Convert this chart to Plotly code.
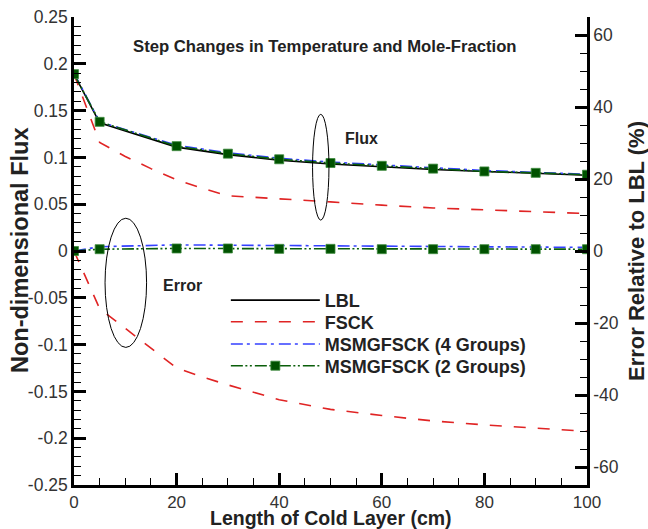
import plotly.graph_objects as go

# ---------------- data ----------------
x_len = [0, 5, 20, 30, 40, 50, 60, 70, 80, 90, 100]
flux_lbl = [0.189, 0.137, 0.111, 0.103, 0.097, 0.093, 0.090, 0.087, 0.085, 0.083, 0.081]
flux_msm4 = [0.190, 0.138, 0.113, 0.105, 0.099, 0.095, 0.092, 0.089, 0.086, 0.084, 0.082]
flux_msm2 = [0.189, 0.138, 0.112, 0.104, 0.098, 0.094, 0.091, 0.088, 0.085, 0.0835, 0.0815]
err_msm4 = [0.0, 1.2, 1.7, 1.6, 1.5, 1.4, 1.3, 1.2, 1.1, 1.0, 1.0]
err_msm2 = [0.0, 0.5, 0.7, 0.7, 0.6, 0.6, 0.5, 0.5, 0.5, 0.5, 0.5]

x_fsck = [0, 5, 10, 15, 20, 25, 30, 40, 50, 60, 70, 80, 90, 100]
flux_fsck = [0.189, 0.116, 0.101, 0.088, 0.076, 0.067, 0.059, 0.056, 0.0525, 0.049, 0.046, 0.044, 0.042, 0.040]
err_fsck = [0.0, -16.0, -21.5, -27.0, -32.5, -35.0, -37.2, -41.3, -44.0, -45.7, -47.2, -48.3, -49.2, -50.1]

y_tickvals = [0.25, 0.2, 0.15, 0.1, 0.05, 0, -0.05, -0.1, -0.15, -0.2, -0.25]
y_ticktext = ["0.25", "0.2", "0.15", "0.1", "0.05", "0", "-0.05", "-0.1", "-0.15", "-0.2", "-0.25"]
y2_tickvals = [60, 40, 20, 0, -20, -40, -60]
y2_ticktext = ["60", "40", "20", "0", "-20", "-40", "-60"]
x_tickvals = [0, 20, 40, 60, 80, 100]
x_ticktext = ["0", "20", "40", "60", "80", "100"]

names = ["LBL", "FSCK", "MSMGFSCK (4 Groups)", "MSMGFSCK (2 Groups)"]
x_title = "Length of Cold Layer (cm)"
y_title = "Non-dimensional Flux"
y2_title = "Error Relative to LBL (%)"

# ---------------- styles ----------------
FONT = "Liberation Sans, Arial, sans-serif"
TXT = "#222222"
RED = "#e02424"
BLUE = "#3440ff"
GREEN = "#0a5e0a"
MK = "#005200"
red_dash = "12px,12px"
blue_dash = "12px,4px,3px,5px"
green_dash = "12px,2.5px,2px,2.5px,2px,3px"
mk = dict(symbol="square", size=9, color=MK, line=dict(color="#3c8a3c", width=0.8))

fig = go.Figure()

# Flux curves
fig.add_trace(go.Scatter(x=x_len, y=flux_lbl, mode="lines", name=names[0], legend="legend",
                         line=dict(color="black", width=1.6)))
fig.add_trace(go.Scatter(x=x_fsck, y=flux_fsck, mode="lines", name=names[1], legend="legend2",
                         line=dict(color=RED, width=1.6, dash=red_dash)))
fig.add_trace(go.Scatter(x=x_len, y=flux_msm4, mode="lines", name=names[2], legend="legend3",
                         line=dict(color=BLUE, width=1.6, dash=blue_dash)))
fig.add_trace(go.Scatter(x=x_len, y=flux_msm2, mode="lines+markers", name=names[3], legend="legend4",
                         line=dict(color=GREEN, width=1.6, dash=green_dash), marker=mk))

# Error curves (right axis)
fig.add_trace(go.Scatter(x=x_fsck, y=err_fsck, mode="lines", name=names[1], yaxis="y2",
                         showlegend=False, line=dict(color=RED, width=1.6, dash=red_dash)))
fig.add_trace(go.Scatter(x=x_len, y=err_msm4, mode="lines", name=names[2], yaxis="y2",
                         showlegend=False, line=dict(color=BLUE, width=1.6, dash=blue_dash)))
fig.add_trace(go.Scatter(x=x_len, y=err_msm2, mode="lines+markers", name=names[3], yaxis="y2",
                         showlegend=False, line=dict(color=GREEN, width=1.6, dash=green_dash),
                         marker=mk))

# ellipses
fig.add_shape(type="circle", xref="x", yref="y", x0=46.5, x1=49.7, y0=0.033, y1=0.146,
              line=dict(color="black", width=1))
fig.add_shape(type="circle", xref="x", yref="y", x0=6.05, x1=14.15, y0=-0.103, y1=0.035,
              line=dict(color="black", width=1))

# annotations
fig.add_annotation(x=48.9, y=0.219, xref="x", yref="y", showarrow=False,
                   text="<b>Step Changes in Temperature and Mole-Fraction</b>",
                   font=dict(family=FONT, size=16.7, color=TXT))
fig.add_annotation(x=56.1, y=0.120, xref="x", yref="y", showarrow=False,
                   text="<b>Flux</b>", font=dict(family=FONT, size=16, color=TXT))
fig.add_annotation(x=21.2, y=-0.037, xref="x", yref="y", showarrow=False,
                   text="<b>Error</b>", font=dict(family=FONT, size=16, color=TXT))

# axis titles as annotations (precise placement)
fig.add_annotation(x=0.5, y=0, xref="paper", yref="paper", yanchor="bottom",
                   yshift=-46, showarrow=False, text="<b>" + x_title + "</b>",
                   font=dict(family=FONT, size=19.5, color=TXT))
fig.add_annotation(x=0, y=0.5, xref="paper", yref="paper", xanchor="center",
                   xshift=-54, showarrow=False, textangle=-90, text="<b>" + y_title + "</b>",
                   font=dict(family=FONT, size=23.5, color=TXT))
fig.add_annotation(x=1, y=0.5, xref="paper", yref="paper", xanchor="center",
                   xshift=49, showarrow=False, textangle=-90, text="<b>" + y2_title + "</b>",
                   font=dict(family=FONT, size=22, color=TXT))

axis_common = dict(showline=True, linecolor="black", linewidth=2.5, ticks="inside",
                   ticklen=12, tickwidth=2.5, tickcolor="black", showgrid=False,
                   zeroline=False, automargin=False,
                   tickfont=dict(family=FONT, size=17.5, color="#333333"))

leg_common = dict(xanchor="left", yanchor="middle", x=0.296, itemwidth=89,
                  bgcolor="rgba(0,0,0,0)",
                  font=dict(family=FONT, size=18, color=TXT, weight="bold"))

# plot area: 74..587 px horizontally, 17..485 px vertically
fig.update_layout(
    width=648, height=529,
    margin=dict(l=74, r=61, t=17, b=44, autoexpand=False),
    plot_bgcolor="white", paper_bgcolor="white",
    showlegend=True,
    legend=dict(y=0.3943, **leg_common),
    legend2=dict(y=0.3483, **leg_common),
    legend3=dict(y=0.3006, **leg_common),
    legend4=dict(y=0.2543, **leg_common),
    xaxis=dict(range=[0, 100], tickmode="array", tickvals=x_tickvals, ticktext=x_ticktext,
               tickfont=dict(family=FONT, size=17, color="#333333"),
               minor=dict(tickmode="linear", tick0=0, dtick=5, ticks="inside", ticklen=7,
                          tickwidth=1, tickcolor="black"),
               **{k: v for k, v in axis_common.items() if k != "tickfont"}),
    yaxis=dict(range=[-0.25, 0.25], tickmode="array", tickvals=y_tickvals, ticktext=y_ticktext,
               minor=dict(tickmode="linear", tick0=0, dtick=0.01, ticks="inside", ticklen=7,
                          tickwidth=1, tickcolor="black"),
               **axis_common),
    yaxis2=dict(range=[-65, 65], overlaying="y", side="right", anchor="x",
                tickmode="array", tickvals=y2_tickvals, ticktext=y2_ticktext,
                minor=dict(tickmode="linear", tick0=0, dtick=5, ticks="inside", ticklen=7,
                           tickwidth=1, tickcolor="black"),
                **axis_common),
)

fig.write_html("out.html")
